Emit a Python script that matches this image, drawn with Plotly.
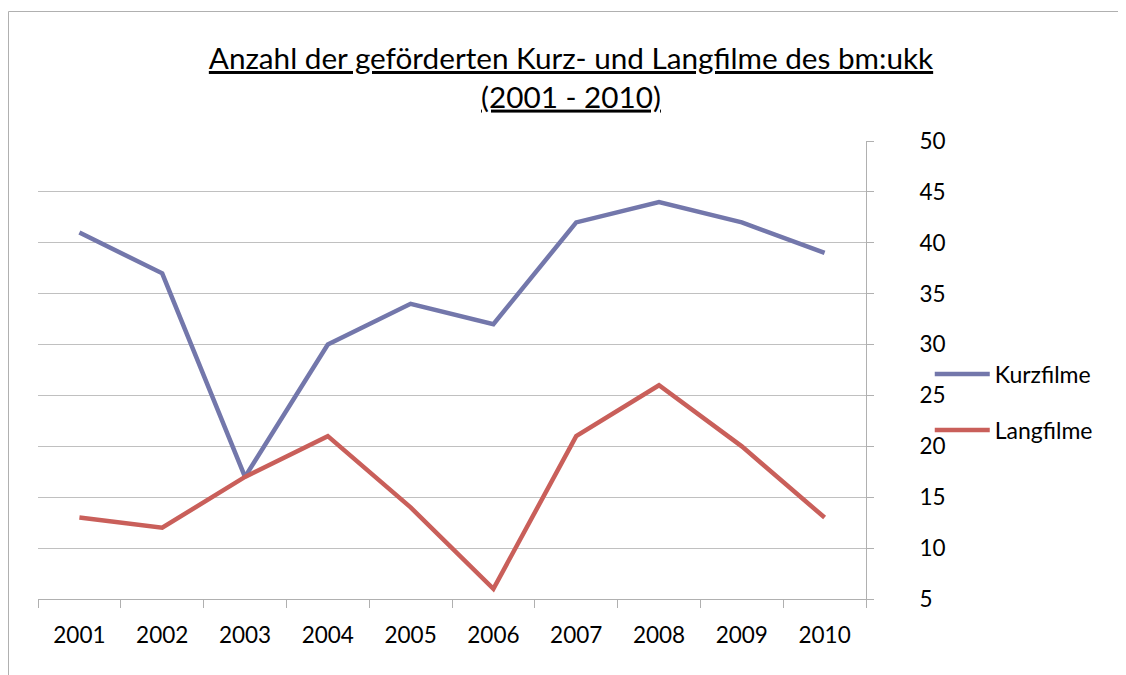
# Anzahl der geförderten Kurz- und Langfilme des bm:ukk (2001 - 2010)
import plotly.graph_objects as go

jahre = ["2001", "2002", "2003", "2004", "2005", "2006", "2007", "2008", "2009", "2010"]
kurzfilme = [41, 37, 17, 30, 34, 32, 42, 44, 42, 39]
langfilme = [13, 12, 17, 21, 14, 6, 21, 26, 20, 13]

schrift = "Lato, Open Sans, sans-serif"

fig = go.Figure()

fig.add_trace(go.Scatter(
    x=jahre,
    y=kurzfilme,
    name="Kurzfilme",
    mode="lines",
    legendgroup="k",
    line=dict(color="#7377ab", width=4.5),
))
fig.add_trace(go.Scatter(
    x=jahre,
    y=langfilme,
    name="Langfilme",
    mode="lines",
    legendgroup="l",
    line=dict(color="#c95f5a", width=4.5),
))

# die Seite hat 8px Rand (body margin), deshalb alles um 8px verschoben
W, H = 1126, 675
ml, mr, mt, mb = 30, 268, 133, 84
pw, ph = W - ml - mr, H - mt - mb

# Rahmen um das Diagramm (geht über den Bildrand hinaus)
fig.add_shape(
    type="rect", xref="paper", yref="paper",
    x0=(0.5 - ml) / pw, x1=(W + 20 - ml) / pw,
    y0=-(mb + 20) / ph, y1=(H - 3.5 - mb) / ph,
    line=dict(color="#b0b0b0", width=1),
    layer="below",
)

fig.update_layout(
    width=W,
    height=H,
    margin=dict(l=ml, r=mr, t=mt, b=mb),
    title=dict(
        text="<u>Anzahl der geförderten Kurz- und Langfilme des bm:ukk</u><br><u>(2001 - 2010)</u>",
        x=(571 - 8) / W,
        xanchor="center",
        y=1 - 61 / H,
        yanchor="top",
        font=dict(family=schrift, size=29.7, color="#000000"),
    ),
    font=dict(family=schrift, size=22.5, color="#000000"),
    plot_bgcolor="white",
    paper_bgcolor="white",
    showlegend=True,
    legend=dict(
        x=1.077, y=0.43, xanchor="left", yanchor="middle",
        font=dict(size=23),
        tracegroupgap=23,
        itemwidth=55,
        bgcolor="rgba(0,0,0,0)",
    ),
    xaxis=dict(
        type="category",
        tickson="boundaries",
        ticks="outside",
        ticklen=8,
        tickcolor="#b0b0b0",
        showline=True,
        linecolor="#b0b0b0",
        showgrid=False,
        range=[-0.5, 9.5],
        ticklabelstandoff=16,
    ),
    yaxis=dict(
        side="right",
        range=[5, 50],
        dtick=5,
        tick0=5,
        ticks="outside",
        ticklen=7,
        tickcolor="#b0b0b0",
        showline=True,
        linecolor="#b0b0b0",
        gridcolor="#c0c0c0",
        gridwidth=1,
        zeroline=False,
        ticklabelstandoff=41,
    ),
)

fig.write_html("out.html")
